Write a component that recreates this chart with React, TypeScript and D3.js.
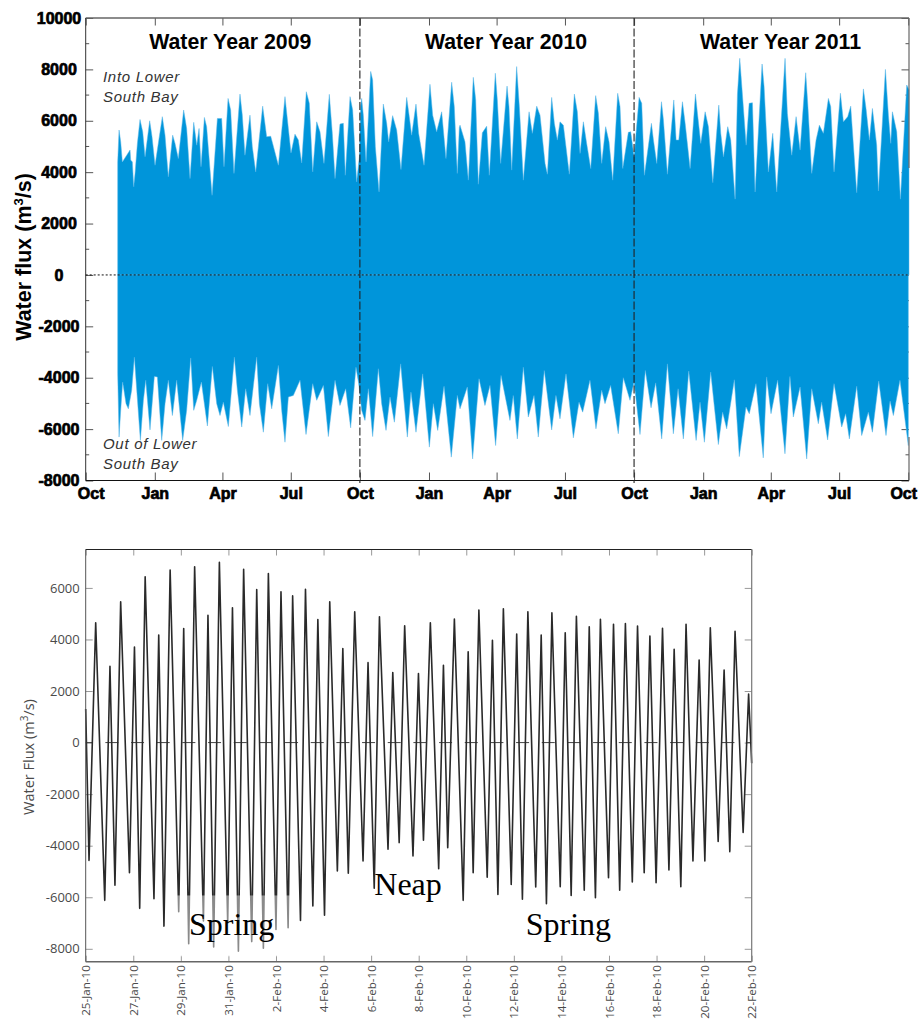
import React, { useEffect, useRef } from "react";
import * as d3 from "d3";

// days since 1 Oct 2008, flux in m3/s : envelope of the three year record
const upperDays = [42.6,44.4,46.6,48.8,54.6,59,59.9,62.1,63.9,65.7,68.8,72.3,75.9,79,85.2,88.3,92.3,102,105.6,110,115.8,118.9,123.3,130.4,134.4,138.9,143.8,147.8,150.9,153.5,158,161,168.2,175.3,181,184.1,189.5,193,197.4,205.4,208.5,212,218.7,221.8,226.3,235.6,240.9,246.3,256.5,265.3,269.8,273.3,278.6,283.1,287.5,293.7,297.7,302.2,307.5,311.9,317.2,324.3,328.3,331.9,338.5,343,345.6,351.9,355.4,360.7,364.3,
	366,367.4,369.6,373.2,379.4,382,385.6,390.5,396.2,400.7,403.3,408.6,414,419.7,427.3,430.8,433.9,439.7,443.2,450.4,458.3,461.9,467.2,473.9,479.6,487.2,490.7,494.7,497.4,498.3,504.9,509.4,516,519.2,522.7,528,533.8,537.3,545.3,548,552.4,560.9,563.5,567.1,573.7,577.3,582.6,590.2,594.6,600.4,604.8,611.5,614.6,620.3,623.9,627.9,631.4,635.9,643.8,650.5,654.5,658.1,662.5,666.9,672.3,678.9,682.5,686.9,692.2,696.7,701.6,708.2,711.3,714.9,722.4,725.5,730,
	736.7,740.2,743.8,753.1,755.8,760.2,766.5,769.1,774.4,782.9,786,789.5,794.4,798,804.6,811.7,814.4,818.8,824.6,829,834.8,842.8,845.4,849,854.7,858.7,864.5,867.6,870.7,873.8,879.2,883.2,887.6,891.1,900.4,903.1,908.8,914.6,919.9,931,934.1,939.9,945.7,951,958.5,961.2,966.5,972.3,976.7,982,988.7,991.8,996.2,1004.7,1008.7,1014.4,1018.4,1026.4,1035.3,1038.8,1043.3,1047.3,1053,1055.3,1064.6,1068.6,1071.7,1073.9,1079.7,1084.6,1093,1096];
const upperFlux = [4400,5640,5180,4400,4660,4860,4470,4400,3430,3950,5120,6050,5570,4600,6000,5380,4270,6160,5440,3820,5440,5120,4530,6420,5700,3750,5940,5050,5700,4210,6130,5770,3100,6090,6090,4210,6870,6420,3950,7040,6220,4660,6220,4990,4010,6570,5380,5400,4270,6940,5700,4750,5480,5250,4360,7130,6680,4010,5960,5570,4340,7030,5510,3750,5870,5900,3880,6940,6420,3620,4600,
	6570,6870,6220,4400,7920,7590,4990,3230,6650,5900,5180,6200,5640,4100,6910,6160,5440,6650,5510,4270,7420,6220,5570,6350,4530,7500,6550,3950,5740,5830,5180,3690,7690,6810,3530,5530,5790,3880,7850,6810,4340,7350,6550,4080,8110,6550,3690,6350,5510,6570,6220,4340,3920,6910,5900,5250,5960,5830,3920,7040,6350,4730,5960,5120,4140,6980,6290,4340,5770,5180,3690,7070,6550,4140,5550,5570,4600,
	6910,6680,3880,5900,5250,4340,6740,6030,3920,6810,5250,5250,6740,5900,4140,7040,6290,5120,6350,5770,3590,6610,5510,4600,5770,5250,2950,7030,8430,7200,5050,6680,6700,3230,8210,7330,4010,5510,3230,8430,6290,4660,6160,4860,7870,6680,3950,5250,5830,5510,6870,6550,4010,7070,5960,6160,6570,3200,7240,6480,5250,6480,5050,3270,8000,6220,5120,6350,5570,2950,7390,7200];
const lowerDays = [42.6,44.4,46.6,49.2,53.7,56.8,61.2,64.8,68.3,72.8,76.8,79.9,85.6,91.4,95.4,101.2,105.6,110,115.4,121.1,129.1,134.4,139.8,143.8,147.8,154,162,168.6,174.4,178.8,183.2,189.9,197.9,201.9,207.7,213,218.7,227.6,231.2,236.5,242.3,247.6,256.5,260.9,265.3,269.8,276.4,285.3,293.3,302.2,307.5,316.4,323,331.9,338.5,346.1,352.7,359.8,363.4,
	367.4,371.8,376.3,382,389.6,394,399.8,405.1,410.9,419.3,422.8,428.2,433,439.7,448.6,457.5,462.8,468.6,477,486.7,494.7,498.3,508,515.1,523.6,531.5,538.2,545.7,552.9,564.8,569.2,574.6,582.6,589.2,596.8,602.5,610.5,620.3,626,631.4,639.4,649.2,656.7,661.6,671.3,679.3,686.9,691.3,698.8,709,715.7,724.6,730,
	737.9,745,752.6,758.8,766.8,774.4,782.3,788.6,795.6,802.8,812.6,817.8,823.6,832,842.2,847.9,853.3,863.5,870.1,879,883.4,892.3,902,906.5,912.3,921.1,930.9,937.5,942,951,959.8,966.5,975.3,979.7,987.7,996.2,1006.4,1011.7,1016.6,1026.4,1033,1041.9,1047.3,1055.7,1065.4,1070.8,1075.2,1084,1095.1];
const lowerFlux = [-3850,-6310,-5270,-4170,-5010,-5210,-4490,-3200,-4620,-6440,-4880,-4100,-6030,-3950,-3970,-6440,-5010,-4100,-5470,-4100,-6440,-5270,-3230,-5270,-4880,-4170,-5880,-3560,-5010,-5470,-4950,-5900,-3200,-4490,-5920,-4430,-5470,-3200,-5010,-6120,-4230,-5210,-3520,-5270,-6510,-4750,-4690,-4100,-6210,-4230,-4880,-4300,-6290,-4100,-5080,-4430,-5950,-3590,-4230,
	-5270,-5660,-4430,-6290,-3650,-5010,-6050,-4750,-5730,-3460,-4620,-6310,-4560,-6120,-3850,-6700,-5010,-6050,-4330,-7090,-4690,-5210,-4360,-7160,-4040,-5080,-4300,-6640,-3910,-5660,-4690,-6380,-3590,-5530,-4690,-6310,-3720,-6030,-4690,-5600,-3850,-6340,-4950,-5340,-4100,-5990,-4490,-5010,-4300,-6180,-4000,-4880,-4170,
	-6210,-3720,-5170,-4200,-6380,-3460,-6180,-4430,-6380,-3740,-6440,-4950,-6510,-3780,-6600,-5340,-5990,-4080,-7070,-5140,-5400,-4230,-7120,-3970,-5400,-4100,-6960,-3950,-5530,-4360,-7160,-4430,-5790,-4950,-6420,-4230,-5920,-5400,-6380,-4330,-6250,-5340,-6120,-4130,-6250,-4910,-5470,-4100,-6640];

const yearTitles = ["Water Year 2009", "Water Year 2010", "Water Year 2011"];
const yearTitleDays = [192.5, 559.5, 925];
const yearBreaks = ["2009-10-01", "2010-10-01"];

// days since 25 Jan 2010 : high and low water of each tide
const highDays = [0.42,1.02,1.47,2.05,2.5,3.07,3.55,4.12,4.58,5.14,5.62,6.17,6.64,7.19,7.68,8.21,8.7,9.24,9.76,10.26,10.81,11.31,11.87,12.35,12.91,13.41,13.99,14.49,15.04,15.5,16.08,16.53,17.1,17.56,18.12,18.59,19.15,19.6,20.16,20.63,21.17,21.64,22.19,22.69,23.2,23.72,24.25,24.74,25.24,25.79,26.26,26.84,27.3,27.87];
const highFlux = [4645,2960,5460,3710,6430,4170,6690,4425,6820,4940,6990,5230,6720,5940,6560,5850,5690,5950,4770,5460,3650,5070,3100,4880,2720,4530,2680,4650,3000,4790,3520,5140,3970,5190,4210,5070,4170,5030,4260,4900,4490,4780,4590,4620,4520,4130,4430,3620,4590,3200,4450,2810,4320,1880];
const lowDays = [0.14,0.8,1.23,1.84,2.27,2.87,3.29,3.91,4.33,4.95,5.38,5.97,6.42,6.98,7.47,8,8.51,9.03,9.55,10.04,10.58,11.04,11.66,12.13,12.71,13.18,13.76,14.2,14.84,15.22,15.87,16.29,16.88,17.33,17.89,18.36,18.92,19.37,19.95,20.41,20.96,21.43,21.98,22.45,22.98,23.48,23.98,24.52,25.02,25.53,26.03,26.59,27.08,27.64];
const lowFlux = [-4570,-6120,-5530,-5050,-6430,-6060,-7120,-6560,-7800,-6920,-7930,-7000,-8090,-7720,-7980,-7250,-7180,-6900,-6340,-6700,-4980,-5070,-4590,-5650,-4140,-3880,-4400,-3790,-4890,-4080,-6120,-5050,-5220,-5890,-5500,-6080,-5600,-6250,-5590,-5930,-5730,-6020,-5240,-5730,-5410,-5050,-5440,-4940,-5590,-4590,-4590,-3840,-4230,-3490];
const seriesStart = 1300;
const seriesEnd = -800;

const yTopTicks = [-8000,-6000,-4000,-2000,0,2000,4000,6000,8000,10000];
const yTopMinor = [-7000,-5000,-3000,-1000,1000,3000,5000,7000,9000];
const yFluxTicks = [-8000,-6000,-4000,-2000,0,2000,4000,6000];
const fluxDateLabels = ["25-Jan-10","27-Jan-10","29-Jan-10","31-Jan-10","2-Feb-10","4-Feb-10","6-Feb-10","8-Feb-10","10-Feb-10","12-Feb-10","14-Feb-10","16-Feb-10","18-Feb-10","20-Feb-10","22-Feb-10"];

const DAY = 864e5;
const ARIAL = "'Liberation Sans', Arial, sans-serif";
const OPEN = "'Open Sans', sans-serif";
const SERIF = "'Liberation Serif', serif";
const BLUE = "#0095da";

function drawTop(svg: any) {
	const origin = Date.UTC(2008, 9, 1);
	const x = d3.scaleUtc().domain([new Date(origin), new Date(origin + 1096 * DAY)]).range([85.7, 909]);
	const y = d3.scaleLinear().domain([-8000, 10000]).range([480.5, 18]);
	const at = (d: number) => x(new Date(origin + d * DAY));
	const g = svg.append("g");

	const boldAxis = (sel: any) => {
		sel.select(".domain").remove();
		sel.selectAll("text")
			.attr("font-family", ARIAL)
			.attr("font-weight", "bold")
			.attr("font-size", 16)
			.attr("fill", "#000")
			.attr("stroke", "#000")
			.attr("stroke-width", 0.7);
		sel.selectAll("line").attr("stroke", "#555");
	};

	// minor and major ticks go under the blue
	[[85.7, 1], [909, -1]].forEach(([px, dir]) => {
		g.selectAll(null).data(yTopMinor).enter().append("line")
			.attr("x1", px).attr("x2", px + dir * 3.5)
			.attr("y1", (d: number) => y(d)).attr("y2", (d: number) => y(d))
			.attr("stroke", "#555");
	});
	const left = g.append("g").attr("transform", "translate(85.7,0)")
		.call(d3.axisLeft(y).tickValues(yTopTicks).tickSize(-7.5).tickPadding(0).tickFormat((d: any) => String(d)));
	boldAxis(left);
	left.selectAll("text").attr("text-anchor", "middle").attr("x", -26.7);
	const right = g.append("g").attr("transform", "translate(909,0)")
		.call(d3.axisRight(y).tickValues(yTopTicks).tickSize(-7.5).tickFormat(() => ""));
	boldAxis(right);

	const months = d3.utcMonth.every(3)!.range(new Date(origin), new Date(Date.UTC(2011, 9, 2)));
	const bottom = g.append("g").attr("transform", "translate(0,480.5)")
		.call(d3.axisBottom(x).tickValues(months).tickSize(-8).tickPadding(6).tickFormat((d: any) => d3.utcFormat("%b")(d)));
	boldAxis(bottom);
	bottom.selectAll("text").attr("y", 18.5).attr("dy", 0);
	bottom.selectAll(".tick").filter((_: any, i: number) => i === 0).select("text").attr("dx", 5);
	bottom.selectAll(".tick").filter((_: any, i: number) => i === months.length - 1).select("text").attr("dx", -5);
	const top = g.append("g").attr("transform", "translate(0,18)")
		.call(d3.axisTop(x).tickValues(months).tickSize(-7.5).tickFormat(() => ""));
	boldAxis(top);

	const upper = d3.area<number>().x((d) => at(d)).y0(y(0)).y1((_, i) => y(upperFlux[i]));
	const lower = d3.area<number>().x((d) => at(d)).y0(y(0)).y1((_, i) => y(lowerFlux[i]));
	g.append("path").attr("d", upper(upperDays)).attr("fill", BLUE).attr("stroke", "#58b6e8").attr("stroke-width", 0.5);
	g.append("path").attr("d", lower(lowerDays)).attr("fill", BLUE).attr("stroke", "#58b6e8").attr("stroke-width", 0.5);

	// frame
	g.append("line").attr("x1", 85.7).attr("x2", 909).attr("y1", 18).attr("y2", 18).attr("stroke", "#666").attr("stroke-width", 1.5);
	g.append("line").attr("x1", 85.7).attr("x2", 85.7).attr("y1", 18).attr("y2", 480.5).attr("stroke", "#333").attr("stroke-width", 1);
	g.append("line").attr("x1", 85.7).attr("x2", 909).attr("y1", 480.5).attr("y2", 480.5).attr("stroke", "#111").attr("stroke-width", 1);
	g.append("line").attr("x1", 909).attr("x2", 909).attr("y1", 18).attr("y2", 168).attr("stroke", "#666").attr("stroke-width", 1.2);
	g.append("line").attr("x1", 909).attr("x2", 909).attr("y1", 437).attr("y2", 480.5).attr("stroke", "#666").attr("stroke-width", 1.2);

	g.append("line").attr("x1", 85.7).attr("x2", 909).attr("y1", y(0)).attr("y2", y(0))
		.attr("stroke", "#111").attr("stroke-width", 1).attr("stroke-dasharray", "2 2");
	yearBreaks.forEach((b) => {
		const px = x(new Date(b + "T00:00:00Z"));
		g.append("line").attr("x1", px).attr("x2", px).attr("y1", 18).attr("y2", 483)
			.attr("stroke", "#222").attr("stroke-width", 1.1).attr("stroke-dasharray", "8 2.5");
	});

	yearTitles.forEach((t, i) => {
		g.append("text").attr("x", at(yearTitleDays[i])).attr("y", 49).attr("text-anchor", "middle")
			.attr("font-family", ARIAL).attr("font-weight", "bold").attr("font-size", 21.3).attr("fill", "#000").text(t);
	});
	const notes: [string, number][] = [["Into Lower", 82], ["South Bay", 102], ["Out of Lower", 449], ["South Bay", 469]];
	notes.forEach(([t, py]) => {
		g.append("text").attr("x", 103).attr("y", py).attr("font-family", ARIAL).attr("font-style", "italic")
			.attr("font-size", 15).attr("letter-spacing", 0.7).attr("fill", "#333").text(t);
	});
	const title = g.append("text").attr("transform", "translate(31,257) rotate(-90)").attr("text-anchor", "middle")
		.attr("font-family", ARIAL).attr("font-weight", "bold").attr("font-size", 21.5).attr("fill", "#000");
	title.append("tspan").text("Water flux (m");
	title.append("tspan").attr("font-size", 13).attr("dy", -8).text("3");
	title.append("tspan").attr("dy", 8).text("/s)");
}

function drawFlux(svg: any) {
	const origin = Date.UTC(2010, 0, 25);
	const x = d3.scaleUtc().domain([new Date(origin), new Date(origin + 28 * DAY)]).range([85.7, 751.7]);
	const y = d3.scaleLinear().domain([-8500, 7490]).range([961.7, 549.5]);
	const at = (d: number) => x(new Date(origin + d * DAY));
	const parse = d3.utcParse("%d-%b-%y");
	const fmt = d3.utcFormat("%-d-%b-%y");
	const dates = fluxDateLabels.map((s) => parse(s)!);
	const g = svg.append("g");

	const tidy = (sel: any) => {
		sel.select(".domain").remove();
		sel.selectAll("line").attr("stroke", "#999");
		sel.selectAll("text").attr("font-family", OPEN).attr("fill", "#4a4a4a");
	};
	const left = g.append("g").attr("transform", "translate(85.7,0)")
		.call(d3.axisLeft(y).tickValues(yFluxTicks).tickSize(-7).tickFormat((d: any) => String(d)));
	tidy(left);
	left.selectAll("text").attr("font-size", 13).attr("x", -6);
	const right = g.append("g").attr("transform", "translate(751.7,0)")
		.call(d3.axisRight(y).tickValues(yFluxTicks).tickSize(-7).tickFormat(() => ""));
	tidy(right);
	const top = g.append("g").attr("transform", "translate(0,549.5)")
		.call(d3.axisTop(x).tickValues(dates).tickSize(-6).tickFormat(() => ""));
	tidy(top);
	const bottom = g.append("g").attr("transform", "translate(0,961.7)")
		.call(d3.axisBottom(x).tickValues(dates).tickSize(-6).tickFormat((d: any) => fmt(d)));
	tidy(bottom);
	bottom.selectAll("text").attr("font-size", 11.6).attr("text-anchor", "end")
		.attr("transform", "rotate(-90)").attr("x", -3.5).attr("y", 0).attr("dy", "0.35em");

	// zero line shows as regular dashes in the source figure
	g.append("line").attr("x1", 85.7).attr("x2", 751.7).attr("y1", y(0)).attr("y2", y(0))
		.attr("stroke", "#444").attr("stroke-width", 1).attr("stroke-dasharray", "13 12.67").attr("stroke-dashoffset", 6);

	const tides: [number, number][] = [[0, seriesStart]];
	lowDays.forEach((d, i) => {
		tides.push([d, lowFlux[i]]);
		tides.push([highDays[i], highFlux[i]]);
	});
	tides.push([28, seriesEnd]);
	const line = d3.line<[number, number]>().x((d) => at(d[0])).y((d) => y(d[1]));
	g.append("path").attr("d", line(tides)).attr("fill", "none").attr("stroke", "#2a2a2a").attr("stroke-width", 1.6).attr("stroke-linejoin", "round");

	// the deepest troughs are washed out below -6000 in the source figure
	g.append("rect").attr("x", at(3.75)).attr("width", at(8.7) - at(3.75)).attr("y", y(-5930)).attr("height", y(-8300) - y(-5930))
		.attr("fill", "#fff").attr("opacity", 0.45);

	// frame
	g.append("line").attr("x1", 85.7).attr("x2", 751.7).attr("y1", 549.5).attr("y2", 549.5).attr("stroke", "#222").attr("stroke-width", 1);
	g.append("line").attr("x1", 85.7).attr("x2", 85.7).attr("y1", 549.5).attr("y2", 961.7).attr("stroke", "#555").attr("stroke-width", 1);
	g.append("line").attr("x1", 85.7).attr("x2", 751.7).attr("y1", 961.7).attr("y2", 961.7).attr("stroke", "#666").attr("stroke-width", 1.5);
	g.append("line").attr("x1", 751.7).attr("x2", 751.7).attr("y1", 549.5).attr("y2", 961.7).attr("stroke", "#777").attr("stroke-width", 1.2);

	const title = g.append("text").attr("transform", "translate(34,757) rotate(-90)").attr("text-anchor", "middle")
		.attr("font-family", OPEN).attr("font-size", 14.5).attr("fill", "#4a4a4a");
	title.append("tspan").text("Water Flux (m");
	title.append("tspan").attr("font-size", 10).attr("dy", -6).text("3");
	title.append("tspan").attr("dy", 6).text("/s)");

	const phases: [string, number, number][] = [["Spring", 189, 935], ["Neap", 374.3, 895], ["Spring", 525.7, 935]];
	phases.forEach(([t, px, py]) => {
		g.append("text").attr("x", px).attr("y", py).attr("font-family", SERIF).attr("font-size", 32).attr("fill", "#000").text(t);
	});
}

export default function App() {
	const ref = useRef<SVGSVGElement>(null);
	useEffect(() => {
		const svg = d3.select(ref.current);
		svg.selectAll("*").remove();
		drawTop(svg);
		drawFlux(svg);
	}, []);
	return <svg ref={ref} width={919} height={1019} style={{ position: "absolute", left: 0, top: 0, display: "block", background: "#fff" }} />;
}
